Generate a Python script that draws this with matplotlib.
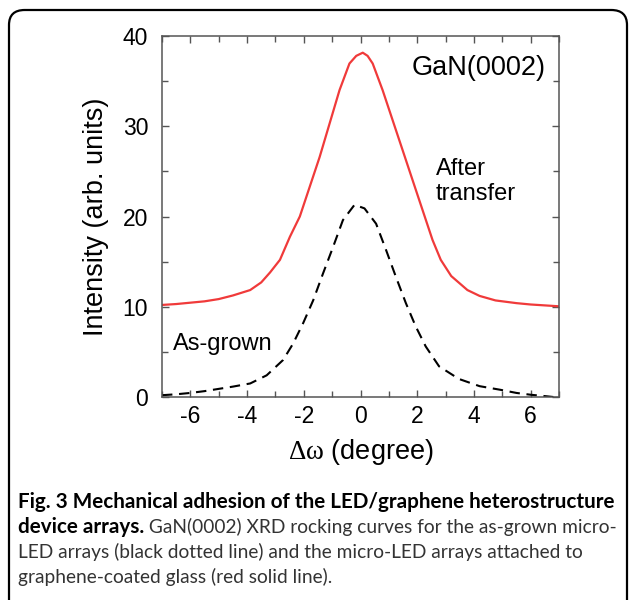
import matplotlib
matplotlib.use("Agg")
import matplotlib.pyplot as plt
from matplotlib.patches import FancyBboxPatch
from matplotlib.ticker import MultipleLocator

# rocking curves (degree, arb. units)
after_x = [-7, -6.5, -6, -5.5, -5, -4.5, -3.89, -3.5, -3.19, -2.84, -2.49, -2.14, -1.79, -1.44,
           -1.09, -0.74, -0.39, -0.15, 0.08, 0.25, 0.43, 0.78, 1.13, 1.48, 1.84, 2.19, 2.54,
           2.83, 3.2, 3.77, 4.2, 4.76, 5.5, 6, 6.5, 7]
after_y = [10.2, 10.3, 10.45, 10.6, 10.85, 11.25, 11.85, 12.7, 13.8, 15.2, 17.75, 20.0, 23.3, 26.6,
           30.3, 34.0, 36.95, 37.8, 38.15, 37.8, 36.95, 34.0, 30.7, 27.4, 24.0, 20.7, 17.4,
           15.2, 13.4, 11.85, 11.2, 10.7, 10.4, 10.25, 10.15, 10.05]

grown_x = [-7, -6.5, -6, -5.5, -5, -4.5, -3.89, -3.31, -2.73, -2.38, -2.02, -1.67, -1.32, -0.97,
           -0.62, -0.21, 0.14, 0.55, 0.9, 1.25, 1.6, 1.95, 2.3, 2.77, 3.47, 4.2, 4.93, 5.5,
           6, 6.5, 6.8]
grown_y = [0.2, 0.3, 0.45, 0.65, 0.9, 1.15, 1.5, 2.4, 4.1, 5.9, 8.2, 10.7, 13.7, 16.6,
           19.6, 21.3, 20.9, 19.2, 16.3, 13.3, 10.4, 7.8, 5.6, 3.4, 2.0, 1.2, 0.8, 0.45,
           0.25, 0.1, 0.0]

x_ticks = [-6, -4, -2, 0, 2, 4, 6]
y_ticks = [0, 10, 20, 30, 40]

caption_bold_1 = "Fig. 3 Mechanical adhesion of the LED/graphene heterostructure"
caption_bold_2 = "device arrays."
caption_rest_2 = " GaN(0002) XRD rocking curves for the as-grown micro-"
caption_line_3 = "LED arrays (black dotted line) and the micro-LED arrays attached to"
caption_line_4 = "graphene-coated glass (red solid line)."


def draw_caption(fig):
    cap_font = ["Lato", "DejaVu Sans"]
    bold_size = 14.9
    x0 = 18 / 629
    ys = [1 - 502 / 600, 1 - 527 / 600, 1 - 552 / 600, 1 - 577 / 600]
    fig.text(x0, ys[0], caption_bold_1, family=cap_font, weight="bold", size=bold_size, va="center")
    t = fig.text(x0, ys[1], caption_bold_2, family=cap_font, weight="bold", size=bold_size, va="center")

    # regular text of the caption is narrower than Lato; size it so line 3 ends near x=588 px
    probe = fig.text(x0, ys[2], caption_line_3, family=cap_font, size=14, va="center")
    fig.canvas.draw()
    w = probe.get_window_extent().width
    probe.remove()
    reg_size = 14 * 570 / w

    x1 = t.get_window_extent().x1 / fig.bbox.width
    fig.text(x1, ys[1], caption_rest_2, family=cap_font, size=reg_size, va="center", color="#333333")
    fig.text(x0, ys[2], caption_line_3, family=cap_font, size=reg_size, va="center", color="#333333")
    fig.text(x0, ys[3], caption_line_4, family=cap_font, size=reg_size, va="center", color="#333333")


def main():
    plt.rcParams["font.family"] = ["Liberation Sans", "DejaVu Sans"]
    plt.rcParams["axes.unicode_minus"] = False
    plt.rcParams["mathtext.fontset"] = "custom"
    plt.rcParams["mathtext.rm"] = "Liberation Serif"

    fig = plt.figure(figsize=(6.29, 6.0), dpi=100)

    # rounded frame round the whole panel
    frame = FancyBboxPatch((9 / 629, -0.05), 618 / 629, 1.05 - 10 / 600,
                           boxstyle="round,pad=0,rounding_size=0.025",
                           transform=fig.transFigure, fill=False, lw=1.6, ec="black")
    fig.patches.append(frame)

    ax = fig.add_axes([162 / 629, 1 - 397 / 600, 397 / 629, 361 / 600])
    ax.plot(after_x, after_y, color="#f03a3a", lw=1.6)
    ax.plot(grown_x, grown_y, color="black", lw=1.5, ls=(0, (5, 3.2)))

    ax.set_xlim(-7, 7)
    ax.set_ylim(0, 40)
    ax.set_xticks(x_ticks)
    ax.set_yticks(y_ticks)
    ax.xaxis.set_minor_locator(MultipleLocator(1))
    ax.yaxis.set_minor_locator(MultipleLocator(5))
    ax.tick_params(which="both", direction="in", top=True, right=True, color="#555555",
                   labelsize=16.5, pad=6)
    ax.tick_params(which="major", length=5, width=1)
    ax.tick_params(which="minor", length=4, width=1)
    ax.tick_params(axis="y", pad=10)
    for sp in ax.spines.values():
        sp.set_color("#555555")
        sp.set_linewidth(1.1)

    ax.set_xlabel(r"$\mathrm{Δω}$ (degree)", fontsize=19.5, labelpad=6)
    ax.set_ylabel("Intensity (arb. units)", fontsize=19.5, labelpad=10)

    ax.text(4.15, 36.4, "GaN(0002)", fontsize=19.5, ha="center", va="center")
    ax.text(2.65, 23.9, "After\ntransfer", fontsize=17, ha="left", va="center", linespacing=1.2)
    ax.text(-6.6, 5.9, "As-grown", fontsize=17, ha="left", va="center")

    draw_caption(fig)
    fig.savefig("out.png", dpi=100)


if __name__ == "__main__":
    main()
